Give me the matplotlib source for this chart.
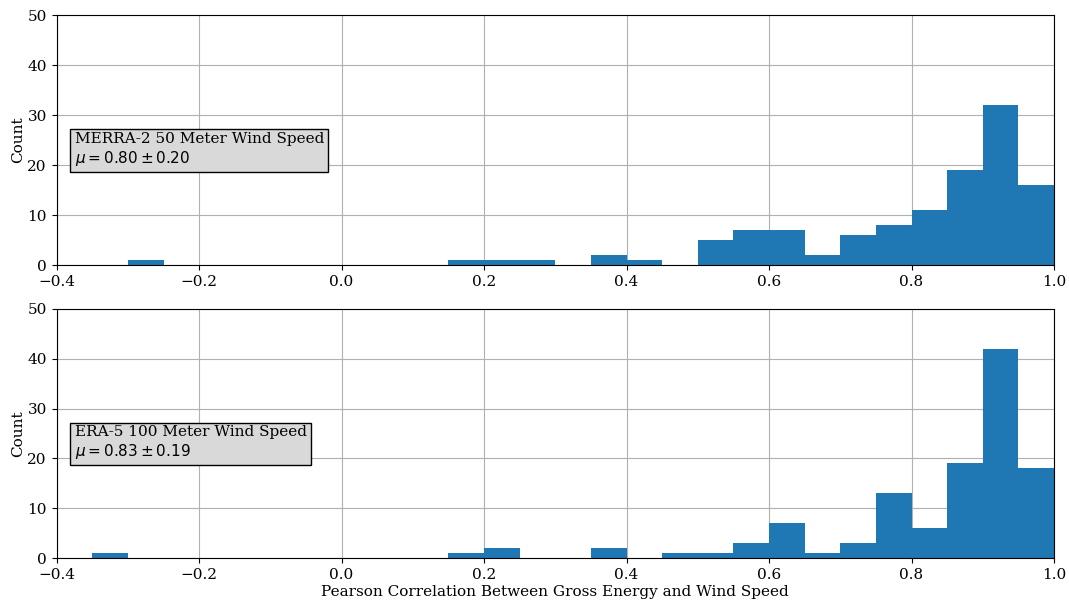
import numpy as np
import matplotlib.pyplot as plt

plt.rcParams['font.family'] = 'DejaVu Serif'
plt.rcParams['font.size'] = 11

# bin edges (width 0.05) from -0.4 to 1.0
bin_edges = np.round(np.arange(-0.40, 1.0001, 0.05), 2)

# counts per bin
merra2_counts = [0, 0, 1, 0, 0, 0, 0, 0, 0, 0, 0, 1, 1, 1, 0, 2, 1, 0,
                 5, 7, 7, 2, 6, 8, 11, 19, 32, 16]
era5_counts = [0, 1, 0, 0, 0, 0, 0, 0, 0, 0, 0, 1, 2, 0, 0, 2, 0, 1,
               1, 3, 7, 1, 3, 13, 6, 19, 42, 18]

labels = ['MERRA-2 50 Meter Wind Speed\n$\\mu = 0.80 \\pm 0.20$',
          'ERA-5 100 Meter Wind Speed\n$\\mu = 0.83 \\pm 0.19$']

fig = plt.figure(figsize=(10.69, 6.01), dpi=100)
ax1 = fig.add_axes([0.053, 0.559, 0.933, 0.416])
ax2 = fig.add_axes([0.053, 0.0715, 0.933, 0.4145])

for ax, counts, label in [(ax1, merra2_counts, labels[0]), (ax2, era5_counts, labels[1])]:
    ax.hist(bin_edges[:-1], bins=bin_edges, weights=counts, color='#1f77b4')
    ax.set_xlim(-0.4, 1.0)
    ax.set_ylim(0, 50)
    ax.set_axisbelow(True)
    ax.grid(True, color='#b0b0b0')
    ax.set_ylabel('Count', labelpad=1.5)
    ax.text(0.018, 0.39, label, transform=ax.transAxes, ha='left', va='bottom',
            bbox=dict(facecolor='#d9d9d9', edgecolor='black', boxstyle='square,pad=0.28'))

ax2.set_xlabel('Pearson Correlation Between Gross Energy and Wind Speed', labelpad=2)

fig.savefig('out.png')
